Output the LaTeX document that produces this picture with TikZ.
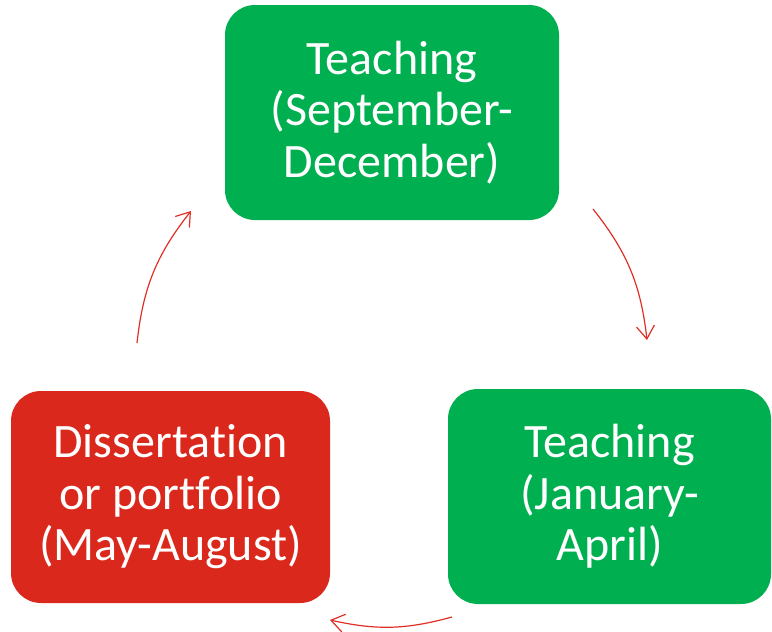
\documentclass[tikz,border=0pt]{standalone}
\usepackage{fontspec}
\setmainfont{Carlito}[Ligatures={NoCommon}]
\usetikzlibrary{arrows.meta}
\definecolor{boxgreen}{RGB}{0,176,80}
\definecolor{boxred}{RGB}{218,41,28}
\definecolor{arrowred}{RGB}{224,48,38}
\tikzset{
  phase/.style={rounded corners=30pt, inner sep=0pt, align=center, text=white,
    font=\fontsize{48}{51.5}\selectfont},
  greenbox/.style={phase, fill=boxgreen},
  redbox/.style={phase, fill=boxred},
  cyclearrow/.style={draw=arrowred, line width=1.2pt,
    -{Straight Barb[length=13pt,width=18pt,line width=1.2pt]}}
}
\begin{document}
\begin{tikzpicture}[x=1pt,y=1pt]
\useasboundingbox (0,0) rectangle (772,-632);
\node[greenbox, minimum width=334pt, minimum height=215pt] (sep) at (392,-112.5)
  {Teaching\\(September-\\December)};
\node[greenbox, minimum width=323pt, minimum height=215pt] (jan) at (609.5,-496.5)
  {Teaching\\(January-\\April)};
\node[redbox, minimum width=319pt, minimum height=212pt] (may) at (170.5,-497)
  {Dissertation\\or portfolio\\(May-August)};
\coordinate (s1) at (593,-209);
\coordinate (e1) at (647,-340);
\coordinate (s2) at (452,-617);
\coordinate (e2) at (330,-620);
\coordinate (s3) at (137,-343);
\coordinate (e3) at (191,-211);
\draw[cyclearrow] (s1) to[bend left=16] (e1);
\draw[cyclearrow] (s2) to[bend left=14] (e2);
\draw[cyclearrow] (s3) to[bend left=16] (e3);
\end{tikzpicture}
\end{document}
